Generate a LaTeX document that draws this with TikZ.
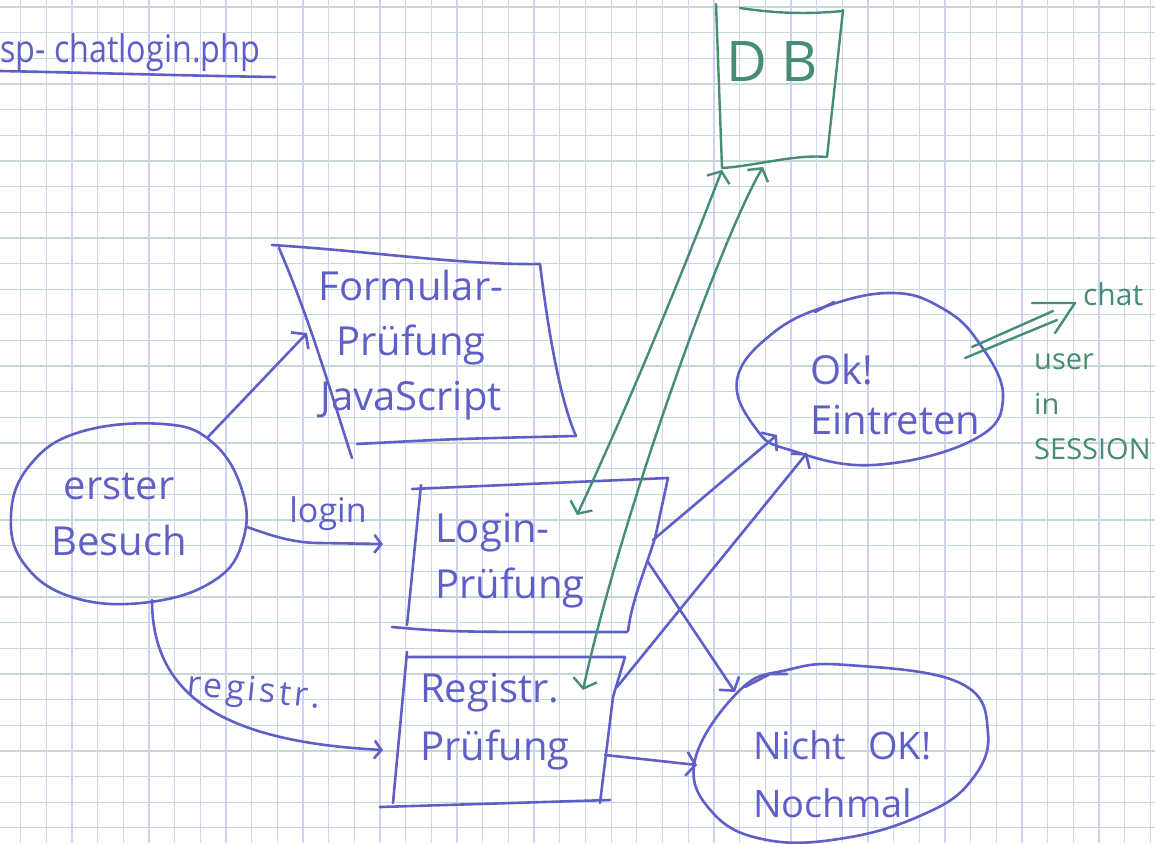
\documentclass[tikz,border=0pt]{standalone}
\usepackage{fontspec}
\setmainfont{Open Sans}
\usetikzlibrary{arrows.meta,calc}
\definecolor{inkblue}{RGB}{95,95,200}
\definecolor{inkgreen}{RGB}{70,140,118}
\definecolor{gridv}{RGB}{208,210,245}
\definecolor{gridh}{RGB}{198,216,214}
\newcommand\hwf[2]{\fontsize{#1}{#2}\selectfont}
\tikzset{
  ink/.style={draw=inkblue,line width=2.6pt,line cap=round,line join=round},
  gink/.style={draw=inkgreen,line width=2.4pt,line cap=round,line join=round},
  barb/.style={-{Straight Barb[length=9pt,width=24pt]}},
  smallbarb/.style={-{Straight Barb[length=7pt,width=18pt]}},
  gbarb/.style={{Straight Barb[length=9pt,width=24pt]}-{Straight Barb[length=9pt,width=24pt]}},
  btxt/.style={inner sep=0pt,text=inkblue},
  gtxt/.style={inner sep=0pt,text=inkgreen},
  vline/.style={draw=gridv,line width=1.3pt},
  hline/.style={draw=gridh,line width=1.3pt}
}
\begin{document}
\begin{tikzpicture}[x=1pt,y=-1pt]
\useasboundingbox (0,0) rectangle (1155,843);
\fill[white] (0,0) rectangle (1155,843);
% grid paper
\foreach \i in {0,...,44} \draw[vline] ({20.5+25.68*\i},0) -- ++(0,843);
\foreach \j in {0,...,32} \draw[hline] (0,{7+25.65*\j}) -- ++(1155,0);

% title
\node[btxt,font=\hwf{38}{44},anchor=base west,xscale=0.85] (title) at (0,63) {sp- chatlogin.php};
\draw[ink] (0,71) .. controls (100,73) and (200,76) .. (275,77);

% DB
\draw[gink] (716,4) -- (722,168) .. controls (755,166) and (795,154) .. (827,157) -- (843,10);
\draw[gink] (740,8) .. controls (780,14) and (810,14) .. (843,11);
\node[gtxt,font=\hwf{56}{60}] (db) at (772,62) {D B};

% Formular-Pruefung box
\draw[ink] (272,245) .. controls (380,252) and (460,265) .. (540,264)
  .. controls (548,330) and (560,400) .. (576,436);
\draw[ink] (357,444) .. controls (450,439) .. (576,436);
\draw[ink] (279,248) .. controls (310,320) and (330,390) .. (352,458);
\node[btxt,font=\hwf{40}{55},align=center] (form) at (411,345) {Formular-\\Prüfung\\JavaScript};

% erster Besuch
\draw[ink] plot[smooth cycle,tension=0.7] coordinates {(163,424) (212,442) (242,490) (243,540) (215,580) (150,602) (75,598) (25,565) (11,515) (30,465) (80,432)};
\node[btxt,font=\hwf{40}{56},align=center] (erster) at (119,515) {erster\\Besuch};

% Login-Pruefung box
\draw[ink] (412,489) -- (668,478) -- (655,538) .. controls (645,570) and (632,600) .. (628,631);
\draw[ink] (421,485) -- (407,625);
\draw[ink] (392,627) .. controls (450,632) .. (627,632);
\node[btxt,font=\hwf{40}{56},align=left,anchor=west] (login) at (435,561) {Login-\\Prüfung};

% Registr.-Pruefung box
\draw[ink] (407,657) -- (625,657) -- (613,697) -- (600,803);
\draw[ink] (407,652) -- (393,803);
\draw[ink] (380,807) -- (610,800);
\node[btxt,font=\hwf{40}{58},align=left,anchor=west] (registr) at (420,722) {Registr.\\Prüfung};

% OK ellipse
\draw[ink] plot[smooth cycle,tension=0.7] coordinates {(893,293) (940,307) (977,340) (1003,397) (973,440) (873,465) (790,450) (757,430) (737,380) (773,333) (830,305)};
\draw[ink] (815,312) -- (834,302);
\node[btxt,font=\hwf{40}{50},align=left,anchor=west] (ok) at (810,394) {Ok!\\Eintreten};

% Nicht OK ellipse
\draw[ink] plot[smooth cycle,tension=0.7] coordinates {(847,665) (960,683) (988,733) (970,782) (922,815) (845,838) (767,840) (713,813) (695,760) (740,690) (787,670)};
\draw[ink] (745,687) -- (770,674) -- (787,674);
\node[btxt,font=\hwf{38}{58},align=left,anchor=west] (nicht) at (753,774) {Nicht\hspace{22pt}OK!\\Nochmal};

% connector end points
\coordinate (erster-ne) at (207,438);
\coordinate (erster-e) at (247,527);
\coordinate (erster-s) at (152,600);
\coordinate (form-w) at (307,333);
\coordinate (login-w) at (383,544);
\coordinate (login-e1) at (653,540);
\coordinate (login-e2) at (648,562);
\coordinate (login-n) at (577,515);
\coordinate (reg-w) at (383,750);
\coordinate (reg-e1) at (617,687);
\coordinate (reg-e2) at (605,755);
\coordinate (reg-n) at (583,690);
\coordinate (ok-sw1) at (777,435);
\coordinate (ok-sw2) at (807,453);
\coordinate (ok-e1) at (972,347);
\coordinate (ok-e2) at (965,358);
\coordinate (nicht-nw) at (735,692);
\coordinate (nicht-w) at (697,765);
\coordinate (db-s1) at (722,170);
\coordinate (db-s2) at (763,167);
\coordinate (chat-w1) at (1053,311);
\coordinate (chat-w2) at (1057,320);
\coordinate (chat-tip) at (1075,303);

% blue connectors
\draw[ink,barb] (erster-ne) -- (form-w);
\draw[ink,smallbarb] (erster-e) .. controls (275,537) and (295,543) .. (320,543) -- (login-w);
\node[btxt,font=\hwf{34}{40},anchor=base] (loginlbl) at (328,522) {login};
\draw[ink,smallbarb] (erster-s) .. controls (152,700) and (230,742) .. (reg-w);
\node[btxt,font={\hwf{34}{40}\addfontfeatures{LetterSpace=10}},rotate=-6] (reglbl) at (254,693) {registr.};
\draw[ink,barb] (login-e1) -- (ok-sw1);
\draw[ink,barb] (login-e2) -- (nicht-nw);
\draw[ink,barb] (reg-e1) -- (ok-sw2);
\draw[ink,barb] (reg-e2) -- (nicht-w);

% green connectors
\draw[gink,gbarb] (db-s1) .. controls (695,240) and (640,380) .. (login-n);
\draw[gink,gbarb] (db-s2) .. controls (720,240) and (620,520) .. (reg-n);
\draw[gink] (ok-e1) -- (chat-w1);
\draw[gink] (ok-e2) -- (chat-w2);
\draw[gink] ($(chat-tip)+(-43,0)$) -- (chat-tip) -- ($(chat-tip)+(-20,30)$);
\node[gtxt,font=\hwf{30}{36},anchor=base west] (chat) at (1083,305) {chat};
\node[gtxt,font=\hwf{29}{45},align=left,anchor=west] (session) at (1034,407) {user\\in\\SESSION};
\end{tikzpicture}
\end{document}
